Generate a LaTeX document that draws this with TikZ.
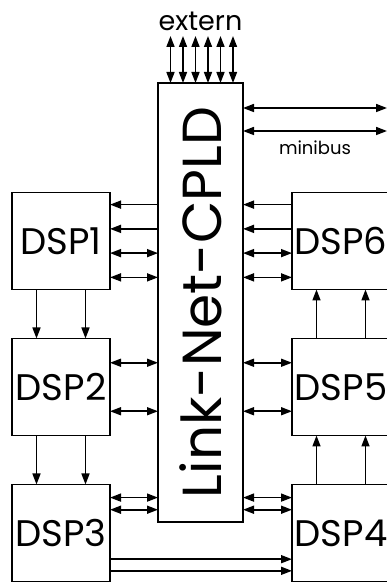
\documentclass[tikz,border=0pt]{standalone}
\usepackage{fontspec}
\setmainfont{Poppins}
\usetikzlibrary{arrows.meta, positioning, calc}

\begin{document}
\begin{tikzpicture}[
    x=1pt, y=1pt,
    node distance=49pt and 182pt,
    >={Triangle[length=11pt, width=8pt]},
    dsp/.style={draw, rectangle, line width=1.9pt, minimum width=98pt, minimum height=97pt, inner sep=0pt, outer sep=0pt, font=\fontsize{37}{37}\selectfont},
    cpld/.style={draw, rectangle, line width=1.9pt, minimum width=85pt, minimum height=439pt, inner sep=0pt, outer sep=0pt, font=\fontsize{55}{55}\selectfont},
    line/.style={draw, line width=1.6pt, ->},
    biline/.style={draw, line width=1.6pt, <->},
    lbl/.style={inner sep=0pt, font=\fontsize{27}{27}\selectfont}
]
    \useasboundingbox (0,0) rectangle (387,584);
    \clip (0,0) rectangle (387,584);

    % Nodes
    \node[cpld] (cpld) at (200.5,281.5) {\rotatebox{90}{Link-Net-CPLD}};
    \node[dsp] (dsp1) at (61,343) {DSP1};
    \node[dsp, below=of dsp1] (dsp2) {DSP2};
    \node[dsp, below=of dsp2] (dsp3) {DSP3};
    \node[dsp, right=of dsp1] (dsp6) {DSP6};
    \node[dsp, right=of dsp2] (dsp5) {DSP5};
    \node[dsp, right=of dsp3] (dsp4) {DSP4};
    \coordinate[above=47pt of cpld.north] (ext);
    \coordinate (mb1) at (387,476);
    \coordinate (mb2) at (387,453);
    \node[lbl, above=5pt of ext] (extern) {extern};

    % extern and minibus
    \foreach \dx in {-30,-17.5,-5,7.5,20,32.5}
        \draw[biline] ([xshift=\dx pt]cpld.north) -- ([xshift=\dx pt]ext);
    \draw[biline] (cpld.east |- mb1) -- (mb1);
    \draw[biline] (cpld.east |- mb2) -- (mb2) node[midway, below=9pt, lbl, font=\fontsize{18}{18}\selectfont] (minibus) {minibus};

    % DSP1 / DSP6 to the CPLD
    \foreach \f/\kind in {0.125/line, 0.375/line, 0.625/biline, 0.875/biline} {
        \coordinate (p) at ($(dsp1.north east)!\f!(dsp1.south east)$);
        \draw[\kind] (cpld.west |- p) -- (p);
        \coordinate (q) at ($(dsp6.north west)!\f!(dsp6.south west)$);
        \draw[\kind] (q) -- (cpld.east |- q);
    }

    % DSP2 / DSP5 to the CPLD, and the chains
    \foreach \f in {0.25,0.75} {
        \coordinate (p) at ($(dsp2.north east)!\f!(dsp2.south east)$);
        \draw[biline] (cpld.west |- p) -- (p);
        \coordinate (q) at ($(dsp5.north west)!\f!(dsp5.south west)$);
        \draw[biline] (q) -- (cpld.east |- q);
        \coordinate (a) at ($(dsp1.south west)!\f!(dsp1.south east)$);
        \draw[line] (a) -- (dsp2.north -| a);
        \draw[line] (dsp2.south -| a) -- (dsp3.north -| a);
        \coordinate (b) at ($(dsp4.north west)!\f!(dsp4.north east)$);
        \draw[line] (b) -- (dsp5.south -| b);
        \draw[line] (dsp5.north -| b) -- (dsp6.south -| b);
    }

    % DSP3 / DSP4
    \foreach \f in {0.135,0.26} {
        \coordinate (p) at ($(dsp3.north east)!\f!(dsp3.south east)$);
        \draw[biline] (cpld.west |- p) -- (p);
        \coordinate (q) at ($(dsp4.north west)!\f!(dsp4.south west)$);
        \draw[biline] (q) -- (cpld.east |- q);
    }
    \foreach \f in {0.77,0.89} {
        \coordinate (p) at ($(dsp3.north east)!\f!(dsp3.south east)$);
        \draw[line] (p) -- (dsp4.west |- p);
    }

\end{tikzpicture}
\end{document}
